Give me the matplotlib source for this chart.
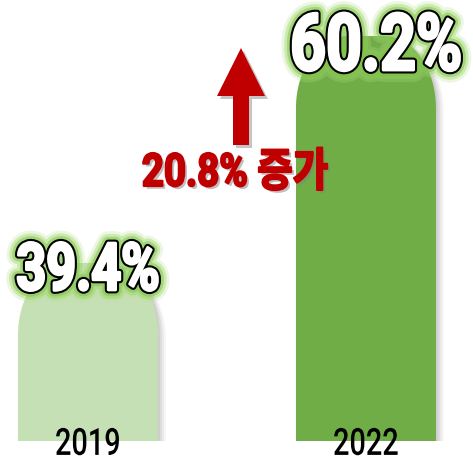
import matplotlib
matplotlib.use("Agg")
import matplotlib.pyplot as plt
import numpy as np
from matplotlib import patheffects as pe
from matplotlib.path import Path
from matplotlib.patches import PathPatch, Polygon
from matplotlib.transforms import Affine2D, ScaledTranslation

# data
years = ["2019", "2022"]
shares = [39.4, 60.2]
value_labels = ["39.4%", "60.2%"]
bar_colors = ["#c5e0b4", "#70ad47"]
change_label = "20.8% 증가"

W, H = 473, 461
DPI = 100


class Squeeze(pe.AbstractPathEffect):
    """Draw the text path narrower (condensed look), then apply inner effects."""

    def __init__(self, sx, effects):
        super().__init__()
        self.sx = sx
        self.effects = effects

    def draw_path(self, renderer, gc, tpath, affine, rgbFace=None):
        ext = tpath.get_extents()
        cx = 0.5 * (ext.x0 + ext.x1)
        a = Affine2D().translate(-cx, 0).scale(self.sx, 1).translate(cx, 0) + affine
        for e in self.effects:
            e.draw_path(renderer, gc, tpath, a, rgbFace)


def rounded_top(x0, x1, y0, y1, rx, ry, n=30):
    t = np.linspace(0, np.pi / 2, n)
    left = np.column_stack([x0 + rx - rx * np.cos(t), y1 - ry + ry * np.sin(t)])
    right = np.column_stack([x1 - rx + rx * np.sin(t), y1 - ry + ry * np.cos(t)])
    pts = np.vstack([[x0, y0], left, right, [x1, y0], [x0, y0]])
    return Path(pts, closed=True)


fig = plt.figure(figsize=(W / DPI, H / DPI), dpi=DPI)
ax = fig.add_axes([0, 20 / H, 1, 441 / H])
ax.set_xlim(-0.3165, 1.385)
ax.set_ylim(23.09, 63.5)
ax.axis("off")

x = np.arange(len(years))
bars = ax.bar(x, shares, width=0.5036, color=bar_colors)

# pixels per data unit, for the rounded corners
p0 = ax.transData.transform((0, 0))
p1 = ax.transData.transform((1, 1))
rx = 52 / (p1[0] - p0[0])
ry = 72 / (p1[1] - p0[1])

for r, c in zip(bars, bar_colors):
    r.set_visible(False)
    path = rounded_top(r.get_x(), r.get_x() + r.get_width(),
                       r.get_y(), r.get_y() + r.get_height(), rx, ry)
    for dx, dy, a in [(2, 1, 0.10), (4, 2, 0.09), (6, 3, 0.07), (8, 4, 0.05)]:
        off = ScaledTranslation(dx / DPI, -dy / DPI, fig.dpi_scale_trans)
        ax.add_patch(PathPatch(path, facecolor="#555555", edgecolor="none",
                               alpha=a, transform=ax.transData + off, zorder=1))
    ax.add_patch(PathPatch(path, facecolor=c, edgecolor="none", zorder=2))

# green glow + black outline; the white stroke fattens the glyphs
glow = [
    pe.Stroke(linewidth=17, foreground="#b5e08e", alpha=0.25),
    pe.Stroke(linewidth=13, foreground="#92d050", alpha=0.35),
    pe.Stroke(linewidth=9, foreground="#7cc444", alpha=0.5),
    pe.Stroke(linewidth=5, foreground="black"),
    pe.Stroke(linewidth=2, foreground="white"),
    pe.Normal(),
]

# value labels on top of bars
label_sizes = [47.5, 57]
label_offsets = [(0, -19.4), (7.2, -24.5)]
for xi, v, lab, fs, off in zip(x, shares, value_labels, label_sizes, label_offsets):
    ax.annotate(lab, xy=(xi, v), xytext=off, textcoords="offset points",
                ha="center", va="baseline", fontsize=fs, fontweight="bold",
                family=["Roboto", "DejaVu Sans"], color="white", zorder=5,
                annotation_clip=False, path_effects=[Squeeze(0.79, glow)])

# year labels at the base of the bars
for xi, yr in zip(x, years):
    ax.annotate(yr, xy=(xi, 0), xycoords=("data", "axes fraction"),
                xytext=(0, -10), textcoords="offset points",
                ha="center", va="baseline", fontsize=27, fontweight="medium",
                family=["Roboto", "DejaVu Sans"], color="black", zorder=5,
                annotation_clip=False, path_effects=[Squeeze(0.77, [pe.Normal()])])

# figure pixel coords (origin top-left)
px = Affine2D().scale(1 / DPI, -1 / DPI).translate(0, H / DPI) + fig.dpi_scale_trans

arrow_pts = [(241, 48), (265, 96), (249, 96), (249, 145), (233, 145), (233, 96), (217, 96)]
shadow = Affine2D().translate(3, 3) + px
fig.patches.append(Polygon(arrow_pts, closed=True, facecolor="gray", alpha=0.45,
                           edgecolor="none", transform=shadow, figure=fig))
fig.patches.append(Polygon(arrow_pts, closed=True, facecolor="#c00000",
                           edgecolor="none", transform=px, figure=fig))

fig.text(235, 186, change_label, transform=px, ha="center", va="baseline",
         fontsize=33, fontweight="bold", color="#c00000",
         family=["Roboto", "Noto Sans CJK KR"],
         path_effects=[Squeeze(0.84, [
             pe.SimplePatchShadow(offset=(2, -2), shadow_rgbFace="gray", alpha=0.5),
             pe.Stroke(linewidth=1.5, foreground="#c00000"),
             pe.Normal()])])

fig.savefig("out.png", dpi=DPI)
